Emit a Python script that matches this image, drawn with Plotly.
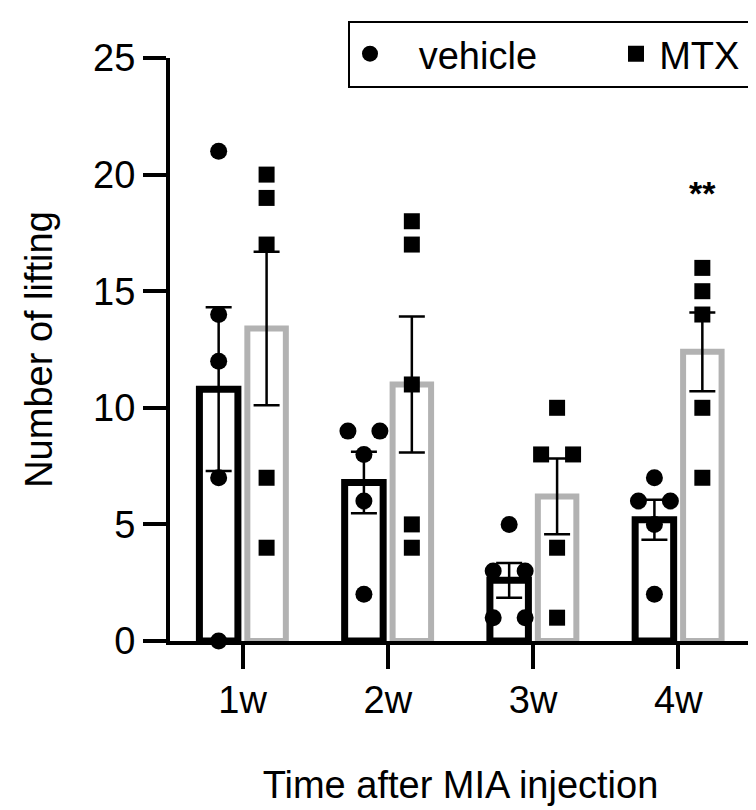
import plotly.graph_objects as go
import numpy as np

categories = ["1w", "2w", "3w", "4w"]
vehicle_values = [
    [21, 14, 12, 7, 0],
    [9, 9, 8, 6, 2],
    [5, 3, 3, 1, 1],
    [7, 6, 6, 5, 2],
]
mtx_values = [
    [20, 19, 17, 7, 4],
    [18, 17, 11, 5, 4],
    [10, 8, 8, 4, 1],
    [16, 15, 14, 10, 7],
]
y_ticks = [0, 5, 10, 15, 20, 25]
signif_labels = ["", "", "", "**"]
series_names = ["vehicle", "MTX"]

FONT = "Liberation Sans, Arial, sans-serif"
FS = 38
GRAY = "#b2b2b2"
OFF = 0.165
BAR_W = 0.265
SPREAD = 0.22
PADS = ["\u00a0\u00a0\u2009", "\u200a"]

# page has an 8px body margin; figure is sized so it fits the 756x810 window
W, H = 748, 802
L, T = 162, 50
PW, PH = 581, 583


def mean_sem(groups):
    means, sems = [], []
    for g in groups:
        a = np.array(g, dtype=float)
        means.append(a.mean())
        sems.append(a.std(ddof=1) / np.sqrt(len(a)))
    return means, sems


def jitter(groups, offset):
    xs, ys = [], []
    for i, g in enumerate(groups):
        counts = {}
        for v in g:
            counts[v] = counts.get(v, 0) + 1
        seen = {}
        for v in g:
            k = counts[v]
            j = seen.get(v, 0)
            seen[v] = j + 1
            xs.append(i + offset + (j - (k - 1) / 2) * SPREAD)
            ys.append(v)
    return xs, ys


vm, vs = mean_sem(vehicle_values)
mm, ms = mean_sem(mtx_values)
xi = list(range(len(categories)))
tfont = dict(family=FONT, size=FS, color="black")

fig = go.Figure()
fig.add_trace(go.Bar(
    x=[i - OFF for i in xi], y=vm, width=BAR_W,
    marker=dict(color="rgba(0,0,0,0)", line=dict(color="black", width=7)),
    error_y=dict(type="data", array=vs, color="black", thickness=2.5, width=13),
    showlegend=False, hoverinfo="skip",
))
fig.add_trace(go.Bar(
    x=[i + OFF for i in xi], y=mm, width=BAR_W,
    marker=dict(color="rgba(0,0,0,0)", line=dict(color=GRAY, width=6)),
    error_y=dict(type="data", array=ms, color="black", thickness=2.5, width=13),
    showlegend=False, hoverinfo="skip",
))
vx, vy = jitter(vehicle_values, -OFF)
mx, my = jitter(mtx_values, OFF)
fig.add_trace(go.Scatter(
    x=vx, y=vy, mode="markers", name=PADS[0] + series_names[0], cliponaxis=False,
    marker=dict(symbol="circle", size=17, color="black"),
))
fig.add_trace(go.Scatter(
    x=mx, y=my, mode="markers", name=PADS[1] + series_names[1], cliponaxis=False,
    marker=dict(symbol="square", size=16, color="black"),
))

for i, lab in enumerate(signif_labels):
    if lab:
        fig.add_annotation(x=i + OFF, y=19.2, text="<b>" + lab + "</b>", showarrow=False,
                           font=dict(size=34, color="black", family=FONT),
                           xref="x", yref="y")

fig.update_layout(
    width=W, height=H,
    margin=dict(l=L, r=W - L - PW, t=T, b=H - T - PH, autoexpand=False),
    paper_bgcolor="white", plot_bgcolor="white",
    font=tfont,
    barmode="overlay",
    showlegend=True,
    legend=dict(
        orientation="h", x=(340 - L) / PW, y=(T + PH - 12.5) / PH,
        xanchor="left", yanchor="top",
        bordercolor="black", borderwidth=2, bgcolor="white",
        font=tfont,
        entrywidth=221,
    ),
    xaxis=dict(
        range=[-0.5, 3.5], tickvals=xi, ticktext=categories,
        showline=True, linecolor="black", linewidth=4,
        ticks="outside", ticklen=24, tickwidth=4, tickcolor="black",
        ticklabelstandoff=-2, tickfont=tfont,
        showgrid=False, zeroline=False, automargin=False,
        title=dict(text="Time after MIA injection", standoff=53, font=tfont),
    ),
    yaxis=dict(
        range=[0, 25], tickvals=y_ticks,
        showline=True, linecolor="black", linewidth=4,
        ticks="outside", ticklen=23, tickwidth=4, tickcolor="black",
        tickfont=tfont,
        showgrid=False, zeroline=False, automargin=False,
        title=dict(text="Number of lifting", standoff=30, font=tfont),
    ),
)

fig.write_html("out.html")
